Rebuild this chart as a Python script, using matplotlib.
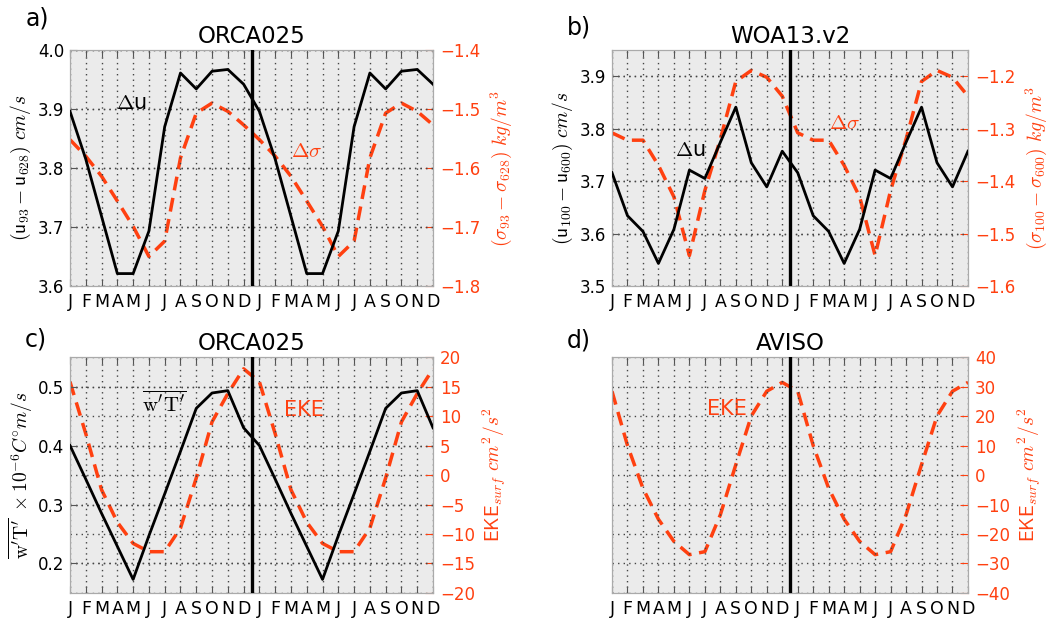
import numpy as np
import matplotlib
matplotlib.use("Agg")
import matplotlib.pyplot as plt


# -----------------------------
# DATA (one climatological year, shown twice)
# -----------------------------
MONTHS = ["J", "F", "M", "A", "M", "J", "J", "A", "S", "O", "N", "D"]

# a) ORCA025
du_orca = [3.896, 3.815, 3.718, 3.621, 3.621, 3.693, 3.870, 3.961, 3.934, 3.964, 3.967, 3.942]
dsig_orca = [-1.552, -1.580, -1.614, -1.656, -1.699, -1.750, -1.724, -1.583, -1.507, -1.490, -1.504, -1.527]

# b) WOA13.v2
du_woa = [3.716, 3.634, 3.604, 3.543, 3.608, 3.721, 3.705, 3.774, 3.841, 3.735, 3.689, 3.757]
dsig_woa = [-1.308, -1.322, -1.322, -1.370, -1.430, -1.542, -1.418, -1.320, -1.210, -1.189, -1.202, -1.238]

# c) ORCA025 heat flux and EKE
wt_orca = [0.400, 0.343, 0.285, 0.229, 0.173, 0.247, 0.318, 0.390, 0.463, 0.489, 0.493, 0.430]
eke_orca = [15.8, 7.0, -2.5, -8.0, -11.6, -13.0, -13.0, -9.0, -0.5, 9.0, 13.8, 18.0]

# d) AVISO EKE
eke_aviso = [28.4, 10.0, -4.5, -15.0, -22.5, -27.0, -26.0, -13.5, 3.5, 20.0, 28.4, 31.4]

RED = "#ff4010"
BG = "#ebebeb"
SPINE = "#aaaaaa"
GRID = dict(linestyle=(0, (1, 3)), color="#444444", linewidth=1.0)


def twice(values):
    return np.array(list(values) * 2)


# -----------------------------
# AXES HELPERS
# -----------------------------
def style_axes(ax, ax2):
    x = np.arange(24)
    ax.set_facecolor(BG)
    ax.set_xlim(0, 23)
    ax.set_xticks(x)
    ax.set_xticklabels(MONTHS * 2)
    ax.tick_params(axis="both", direction="in", top=True, length=5,
                   labelsize=12, pad=4, color="#555555")
    ax.tick_params(axis="x", labelsize=12.5, pad=5)
    ax.grid(True, **GRID)
    for sp in ax.spines.values():
        sp.set_color(SPINE)
    ax2.tick_params(axis="y", direction="in", colors=RED, length=6,
                    labelsize=12, pad=5)
    ax2.grid(True, axis="y", **GRID)
    for sp in ax2.spines.values():
        sp.set_color(SPINE)
    # black curve and marker line on top of the twin axes
    ax.set_zorder(ax2.get_zorder() + 1)
    ax.patch.set_visible(False)
    ax2.patch.set_visible(True)
    ax2.patch.set_facecolor(BG)
    ax.axvline(11.5, color="k", linewidth=2.4, zorder=5)


def plot_black(ax, values):
    ax.plot(np.arange(24), twice(values), color="k", linewidth=2.0, zorder=4)


def plot_red(ax2, values):
    ax2.plot(np.arange(24), twice(values), color=RED, linewidth=2.5,
             dashes=(4.0, 2.2), zorder=3)


def main():
    plt.rcParams["mathtext.fontset"] = "cm"
    plt.rcParams["font.family"] = ["DejaVu Sans"]

    fig = plt.figure(figsize=(10.51, 6.21), dpi=100)

    left_a, left_b = 0.0666, 0.5823
    w_a, w_b = 0.3454, 0.3387
    bot_top, bot_bot, h = 0.5395, 0.0451, 0.38

    ax_a = fig.add_axes([left_a, bot_top, w_a, h])
    ax_b = fig.add_axes([left_b, bot_top, w_b, h])
    ax_c = fig.add_axes([left_a, bot_bot, w_a, h])
    ax_d = fig.add_axes([left_b, bot_bot, w_b, h])

    # ---- a) ----
    ax_a2 = ax_a.twinx()
    plot_black(ax_a, du_orca)
    plot_red(ax_a2, dsig_orca)
    ax_a.set_ylim(3.6, 4.0)
    ax_a.set_yticks(np.arange(3.6, 4.01, 0.1))
    ax_a2.set_ylim(-1.8, -1.4)
    ax_a2.set_yticks(np.arange(-1.8, -1.39, 0.1))
    ax_a.set_ylabel(r"$(\mathsf{u}_{93}-\mathsf{u}_{628})\ cm/s$", fontsize=14, labelpad=4)
    ax_a2.set_ylabel(r"$(\sigma_{93}-\sigma_{628})\ kg/m^3$", fontsize=14, color=RED, labelpad=6)
    ax_a.text(3.9, 3.91, r"$\Delta$u", fontsize=15, ha="center", va="center", zorder=6)
    ax_a2.text(15.0, -1.572, r"$\Delta\sigma$", fontsize=15, color=RED, ha="center", va="center")
    style_axes(ax_a, ax_a2)
    ax_a.set_title("ORCA025", fontsize=16.5, pad=5)

    # ---- b) ----
    ax_b2 = ax_b.twinx()
    plot_black(ax_b, du_woa)
    plot_red(ax_b2, dsig_woa)
    ax_b.set_ylim(3.5, 3.95)
    ax_b.set_yticks(np.arange(3.5, 3.91, 0.1))
    ax_b2.set_ylim(-1.6, -1.15)
    ax_b2.set_yticks(np.arange(-1.6, -1.19, 0.1))
    ax_b.set_ylabel(r"$(\mathsf{u}_{100}-\mathsf{u}_{600})\ cm/s$", fontsize=14, labelpad=4)
    ax_b2.set_ylabel(r"$(\sigma_{100}-\sigma_{600})\ kg/m^3$", fontsize=14, color=RED, labelpad=6)
    ax_b.text(5.05, 3.76, r"$\Delta$u", fontsize=15, ha="center", va="center", zorder=6)
    ax_b2.text(15.05, -1.29, r"$\Delta\sigma$", fontsize=15, color=RED, ha="center", va="center")
    style_axes(ax_b, ax_b2)
    ax_b.set_title("WOA13.v2", fontsize=16.5, pad=5)

    # ---- c) ----
    ax_c2 = ax_c.twinx()
    plot_black(ax_c, wt_orca)
    plot_red(ax_c2, eke_orca)
    ax_c.set_ylim(0.15, 0.55)
    ax_c.set_yticks([0.2, 0.3, 0.4, 0.5])
    ax_c2.set_ylim(-20, 20)
    ax_c2.set_yticks(np.arange(-20, 21, 5))
    ax_c.set_ylabel(r"$\overline{\mathrm{w}^{\prime}\mathrm{T}^{\prime}}\ \times 10^{-6}C^{\circ}m/s$",
                    fontsize=14, labelpad=2)
    ax_c2.set_ylabel(r"$\mathsf{EKE}_{surf}\ cm^2/s^2$", fontsize=14, color=RED, labelpad=4)
    ax_c.text(6.0, 0.472, r"$\overline{\mathrm{w}^{\prime}\mathrm{T}^{\prime}}$", fontsize=15,
              ha="center", va="center", zorder=6)
    ax_c2.text(14.8, 11.0, "EKE", fontsize=15, color=RED, ha="center", va="center")
    style_axes(ax_c, ax_c2)
    ax_c.set_title("ORCA025", fontsize=16.5, pad=5)

    # ---- d) ----
    ax_d2 = ax_d.twinx()
    plot_red(ax_d2, eke_aviso)
    ax_d2.set_ylim(-40, 40)
    ax_d2.set_yticks(np.arange(-40, 41, 10))
    ax_d.set_yticks([])
    ax_d2.set_ylabel(r"$\mathsf{EKE}_{surf}\ cm^2/s^2$", fontsize=14, color=RED, labelpad=4)
    ax_d2.text(7.4, 22.5, "EKE", fontsize=15, color=RED, ha="center", va="center")
    style_axes(ax_d, ax_d2)
    ax_d.set_title("AVISO", fontsize=16.5, pad=5)

    # panel letters
    fig.text(0.024, 0.971, "a)", fontsize=17, va="center")
    fig.text(0.5395, 0.955, "b)", fontsize=17, va="center")
    fig.text(0.024, 0.454, "c)", fontsize=17, va="center")
    fig.text(0.5395, 0.452, "d)", fontsize=17, va="center")

    fig.savefig("out.png", dpi=100)


if __name__ == "__main__":
    main()
